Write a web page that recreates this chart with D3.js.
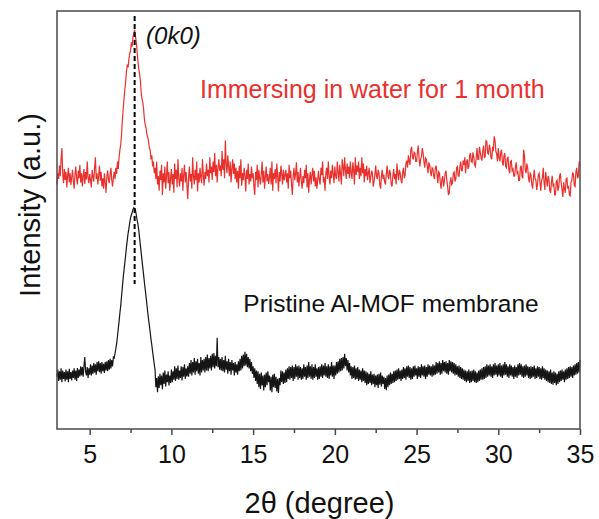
<!DOCTYPE html>
<meta charset="utf-8">
<script src="https://cdn.jsdelivr.net/npm/d3@7/dist/d3.min.js"></script>
<style>
  body { margin: 0; background: #fff; }
  text { font-family: "Liberation Sans", Arial, sans-serif; }
</style>
<svg width="599" height="519"></svg>
<script>
// scan grid: 2-theta from 3 to 35 deg, one reading every 0.05 deg (20 per row)
var angleStart = 3,
  angleStep = 0.05;

// immersed in water for 1 month (stacked above the pristine pattern)
var immersed = [
  585, 612, 598, 630, 605, 645, 672, 610, 588, 622, 596, 615, 578, 608, 625, 590, 612, 584, 603, 620,
  592, 575, 610, 628, 598, 585, 618, 600, 632, 590, 612, 580, 605, 622, 586, 615, 597, 640, 602, 588,
  610, 595, 578, 620, 604, 592, 625, 650, 598, 612, 585, 606, 630, 594, 615, 580, 600, 575, 612, 590,
  565, 605, 618, 596, 588, 610, 625, 595, 580, 602, 615, 598, 625, 610, 640, 622, 650, 668, 680, 705,
  740, 765, 790, 812, 830, 855, 872, 865, 885, 898, 905, 925, 915, 938, 945, 955, 940, 925, 905, 880,
  862, 850, 835, 805, 790, 782, 765, 740, 728, 720, 705, 698, 688, 672, 668, 645, 655, 628, 640, 612,
  625, 598, 640, 585, 605, 570, 618, 596, 632, 560, 612, 590, 628, 575, 605, 640, 588, 615, 570, 600,
  622, 585, 610, 565, 635, 598, 620, 578, 645, 600, 580, 612, 592, 625, 570, 608, 632, 590, 615, 585,
  550, 600, 628, 592, 610, 575, 650, 605, 585, 620, 595, 640, 568, 612, 590, 625, 602, 588, 645, 610,
  582, 615, 598, 635, 605, 620, 590, 650, 612, 628, 596, 640, 615, 660, 605, 632, 590, 625, 645, 618,
  630, 605, 665, 620, 645, 600, 690, 635, 612, 655, 628, 605, 640, 590, 622, 645, 610, 635, 598, 625,
  590, 618, 575, 630, 600, 645, 582, 612, 595, 625, 605, 568, 620, 598, 635, 585, 610, 592, 628, 600,
  612, 580, 560, 615, 595, 632, 578, 620, 600, 585, 612, 640, 590, 618, 575, 605, 628, 592, 610, 586,
  602, 625, 585, 640, 570, 612, 598, 622, 588, 635, 605, 568, 615, 592, 630, 610, 585, 620, 595, 608,
  620, 590, 612, 575, 632, 600, 618, 585, 560, 605, 625, 595, 612, 638, 590, 615, 580, 602, 625, 592,
  575, 605, 588, 620, 600, 632, 578, 612, 565, 598, 615, 585, 608, 625, 592, 618, 580, 602, 575, 595,
  618, 595, 585, 625, 608, 640, 590, 602, 570, 612, 625, 598, 640, 605, 585, 618, 600, 632, 610, 588,
  628, 605, 598, 640, 615, 592, 632, 610, 585, 645, 628, 605, 650, 620, 598, 635, 610, 628, 600, 640,
  612, 598, 638, 620, 585, 650, 608, 630, 615, 640, 598, 625, 605, 650, 612, 635, 590, 622, 605, 630,
  595, 612, 625, 588, 602, 618, 612, 580, 592, 608, 630, 605, 598, 620, 612, 585, 575, 605, 620, 598,
  608, 590, 585, 612, 630, 605, 598, 620, 612, 585, 580, 605, 622, 598, 610, 585, 635, 612, 595, 620,
  612, 595, 588, 615, 625, 600, 608, 635, 642, 625, 655, 640, 632, 668, 675, 650, 645, 662, 660, 640,
  640, 662, 678, 650, 628, 645, 652, 672, 660, 640, 625, 648, 645, 630, 612, 638, 632, 615, 605, 625,
  622, 605, 598, 625, 630, 610, 588, 615, 612, 590, 575, 598, 605, 580, 592, 612, 618, 595, 580, 560,
  565, 590, 602, 585, 588, 612, 615, 592, 598, 625, 628, 605, 605, 628, 640, 618, 618, 642, 632, 650,
  612, 638, 645, 622, 628, 655, 660, 640, 638, 662, 652, 632, 628, 650, 672, 645, 645, 675, 662, 648,
  642, 665, 678, 650, 652, 690, 688, 660, 658, 680, 672, 650, 645, 672, 668, 700, 690, 665, 658, 640,
  672, 650, 640, 662, 668, 638, 630, 655, 660, 628, 625, 648, 650, 620, 612, 640, 642, 618, 622, 605,
  605, 628, 638, 612, 615, 595, 595, 625, 630, 605, 600, 668, 655, 620, 612, 635, 625, 600, 590, 612,
  608, 585, 575, 600, 620, 598, 596, 572, 585, 608, 612, 590, 570, 595, 600, 625, 590, 572, 615, 598,
  580, 605, 598, 570, 565, 590, 606, 582, 585, 560, 560, 592, 595, 570, 578, 605, 612, 588, 572, 555,
  590, 575, 565, 598, 600, 575, 582, 560, 558, 590, 595, 612, 610, 582, 580, 615, 625, 600, 605, 640,
  630
];

// pristine Al-MOF membrane
var pristine = [
  125, 142, 115, 138, 118, 145, 112, 140, 120, 136, 114, 142, 118, 138, 112, 144, 120, 136, 116, 140,
  122, 145, 118, 140, 115, 146, 122, 142, 126, 150, 128, 148, 125, 150, 172, 138, 128, 148, 122, 145,
  130, 155, 128, 152, 132, 158, 135, 155, 130, 160, 138, 162, 136, 158, 132, 160, 138, 156, 134, 160,
  140, 162, 138, 165, 142, 168, 145, 165, 150, 172, 170, 180, 192, 205, 222, 240, 258, 278, 295, 318,
  340, 362, 380, 398, 415, 435, 452, 468, 480, 494, 505, 512, 518, 525, 529, 527, 524, 512, 500, 490,
  476, 458, 440, 422, 404, 386, 368, 350, 333, 316, 298, 280, 263, 248, 232, 215, 201, 185, 170, 155,
  141, 100, 122, 88, 126, 98, 132, 105, 128, 95, 135, 108, 140, 102, 130, 112, 138, 104, 128, 110,
  142, 112, 138, 118, 150, 115, 145, 120, 152, 118, 140, 122, 150, 116, 148, 125, 155, 120, 145, 126,
  150, 125, 158, 132, 165, 128, 160, 135, 170, 130, 162, 138, 168, 132, 158, 128, 172, 135, 165, 140,
  168, 135, 172, 140, 178, 138, 170, 145, 175, 140, 180, 148, 182, 145, 175, 150, 218, 148, 172, 142,
  168, 140, 172, 138, 165, 135, 175, 142, 162, 132, 168, 138, 160, 130, 165, 140, 158, 128, 160, 135,
  155, 130, 162, 138, 168, 140, 175, 145, 178, 150, 185, 152, 180, 148, 172, 145, 168, 138, 160, 132,
  150, 122, 145, 115, 140, 108, 138, 100, 132, 96, 135, 104, 128, 92, 130, 100, 135, 105, 138, 112,
  128, 92, 125, 88, 130, 100, 132, 98, 125, 90, 120, 86, 122, 105, 140, 112, 138, 108, 135, 110,
  142, 112, 145, 120, 150, 118, 148, 122, 152, 115, 148, 120, 155, 125, 150, 118, 152, 122, 148, 118,
  145, 120, 155, 125, 148, 118, 152, 122, 160, 125, 150, 120, 155, 118, 148, 122, 155, 125, 145, 118,
  148, 120, 150, 125, 155, 122, 152, 128, 158, 125, 150, 122, 155, 120, 150, 128, 160, 125, 152, 120,
  152, 128, 160, 132, 162, 135, 168, 138, 170, 140, 172, 145, 180, 150, 170, 140, 165, 135, 158, 128,
  150, 120, 148, 122, 152, 118, 145, 120, 148, 115, 142, 118, 140, 112, 145, 115, 140, 110, 138, 105,
  135, 108, 132, 110, 138, 105, 130, 108, 132, 100, 128, 105, 130, 98, 132, 106, 135, 102, 128, 108,
  125, 96, 122, 93, 128, 100, 130, 105, 135, 108, 132, 110, 138, 112, 140, 115, 142, 118, 145, 120,
  140, 115, 142, 120, 148, 122, 145, 118, 150, 125, 152, 122, 148, 118, 145, 120, 150, 125, 152, 128,
  145, 120, 150, 125, 148, 122, 155, 128, 150, 125, 152, 120, 148, 125, 155, 130, 152, 128, 150, 125,
  155, 128, 152, 130, 160, 132, 158, 135, 162, 130, 158, 132, 165, 138, 160, 135, 162, 132, 158, 130,
  165, 138, 162, 135, 160, 132, 158, 128, 155, 130, 150, 125, 152, 122, 148, 120, 145, 118, 142, 115,
  140, 112, 138, 115, 142, 110, 138, 112, 140, 115, 142, 112, 138, 110, 135, 112, 140, 115, 142, 118,
  145, 118, 148, 120, 150, 122, 155, 125, 152, 128, 155, 125, 150, 122, 155, 128, 158, 130, 152, 125,
  155, 128, 158, 125, 152, 122, 155, 128, 160, 130, 155, 125, 150, 122, 155, 128, 152, 125, 148, 120,
  152, 125, 148, 122, 155, 128, 158, 130, 155, 125, 150, 122, 152, 125, 155, 128, 150, 122, 148, 120,
  150, 122, 148, 125, 152, 120, 145, 122, 150, 125, 148, 120, 145, 118, 150, 122, 145, 118, 142, 115,
  140, 112, 138, 110, 142, 108, 135, 106, 138, 110, 135, 105, 132, 108, 138, 112, 140, 115, 142, 118,
  138, 112, 142, 118, 145, 120, 148, 122, 150, 125, 148, 122, 152, 128, 155, 130, 158, 132, 160, 135,
  165
];

var majorTicks = [5, 10, 15, 20, 25, 30, 35];
var minorTicks = [7.5, 12.5, 17.5, 22.5, 27.5, 32.5];
var peakAngle = 7.75;
var peakLabel = "(0k0)";
var immersedLabel = "Immersing in water for 1 month";
var pristineLabel = "Pristine Al-MOF membrane";

var svg = d3.select("svg"),
  margin = { top: 11, right: 19, bottom: 90, left: 57 },
  width = +svg.attr("width"),
  height = +svg.attr("height");

var x = d3
  .scaleLinear()
  .domain([3, 35])
  .range([margin.left, width - margin.right]);

var y = d3
  .scaleLinear()
  .domain([0, 1000])
  .range([height - margin.bottom, margin.top]);

function toPoints(arr) {
  return arr.map(function(v, i) {
    return [angleStart + i * angleStep, v];
  });
}

var line = d3
  .line()
  .x(function(d) { return x(d[0]); })
  .y(function(d) { return y(d[1]); });

//Patterns
svg
  .append("path")
  .datum(toPoints(pristine))
  .attr("fill", "none")
  .attr("stroke", "#151515")
  .attr("stroke-width", 1.2)
  .attr("d", line);

svg
  .append("path")
  .datum(toPoints(immersed))
  .attr("fill", "none")
  .attr("stroke", "#e8312d")
  .attr("stroke-width", 1.2)
  .attr("d", line);

//Peak marker
svg
  .append("line")
  .attr("x1", x(peakAngle))
  .attr("x2", x(peakAngle))
  .attr("y1", y(988))
  .attr("y2", y(347))
  .attr("stroke", "#000")
  .attr("stroke-width", 2)
  .attr("stroke-dasharray", "5,3");

//Frame
svg
  .append("rect")
  .attr("x", x(3))
  .attr("y", y(1000))
  .attr("width", x(35) - x(3))
  .attr("height", y(0) - y(1000))
  .attr("fill", "none")
  .attr("stroke", "#4a4a4a")
  .attr("stroke-width", 1.5);

//X-axis
var gx = svg
  .append("g")
  .attr("transform", "translate(0," + y(0) + ")")
  .call(
    d3.axisBottom(x)
      .tickValues(majorTicks)
      .tickSize(6)
      .tickPadding(10)
  );
gx.select(".domain").remove();
gx.selectAll(".tick line").attr("stroke", "#4a4a4a").attr("stroke-width", 1.5);
gx.selectAll(".tick text")
  .attr("font-size", 25)
  .attr("font-family", "Liberation Sans, Arial, sans-serif")
  .attr("fill", "#111");

var gm = svg
  .append("g")
  .attr("transform", "translate(0," + y(0) + ")")
  .call(d3.axisBottom(x).tickValues(minorTicks).tickSize(4).tickFormat(""));
gm.select(".domain").remove();
gm.selectAll(".tick line").attr("stroke", "#4a4a4a").attr("stroke-width", 1.5);

//Axis labels
svg
  .append("text")
  .attr("x", (x(3) + x(35)) / 2 + 1)
  .attr("y", 513)
  .attr("text-anchor", "middle")
  .attr("font-size", 29)
  .attr("fill", "#111")
  .text("2\u03b8 (degree)");

svg
  .append("text")
  .attr("transform", "translate(40," + 205 + ") rotate(-90)")
  .attr("text-anchor", "middle")
  .attr("font-size", 29)
  .attr("fill", "#111")
  .text("Intensity (a.u.)");

//Annotations
svg
  .append("text")
  .attr("x", x(8.45))
  .attr("y", y(922))
  .attr("font-size", 24)
  .attr("font-style", "italic")
  .attr("fill", "#111")
  .text(peakLabel);

svg
  .append("text")
  .attr("x", x(11.75))
  .attr("y", y(792))
  .attr("font-size", 25)
  .attr("fill", "#e8312d")
  .text(immersedLabel);

svg
  .append("text")
  .attr("x", x(14.4))
  .attr("y", y(280))
  .attr("font-size", 24.5)
  .attr("fill", "#111")
  .text(pristineLabel);
</script>
